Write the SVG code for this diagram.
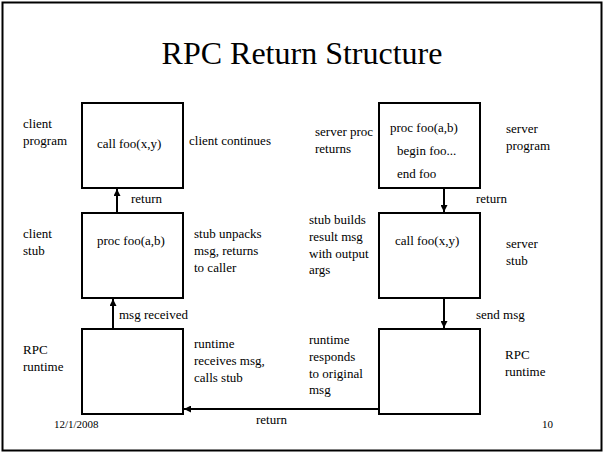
<svg xmlns="http://www.w3.org/2000/svg" width="605" height="454" viewBox="0 0 605 454" font-family="Liberation Serif, Times New Roman, serif">
<style>
text{font-size:13px;fill:#000}
.t{font-size:32px}
.s{font-size:11px}
.box{fill:#fff;stroke:#000;stroke-width:2}
.ln{fill:none;stroke:#000;stroke-width:2}
</style>
<defs>
<marker id="ah" viewBox="0 0 10 10" refX="10" refY="5" markerWidth="3.5" markerHeight="3.5" orient="auto" markerUnits="strokeWidth">
<path d="M0,0 L10,5 L0,10 z" fill="#000"/>
</marker>
</defs>
<rect x="2.5" y="2.5" width="599" height="448" fill="#fff" stroke="#000" stroke-width="2"/>
<text class="t" x="302" y="64" text-anchor="middle">RPC Return Structure</text>

<g id="connectors">
<line class="ln" x1="117" y1="213" x2="117" y2="189" marker-end="url(#ah)"/>
<line class="ln" x1="113" y1="329" x2="113" y2="299" marker-end="url(#ah)"/>
<line class="ln" x1="444" y1="188" x2="444" y2="212" marker-end="url(#ah)"/>
<line class="ln" x1="444" y1="298" x2="444" y2="328" marker-end="url(#ah)"/>
<polyline class="ln" points="379,409 300,409 184,409" marker-end="url(#ah)"/>
<text x="131" y="203">return</text>
<text x="119" y="319">msg received</text>
<text x="476" y="203">return</text>
<text x="476" y="319">send msg</text>
<text x="256" y="424">return</text>
</g>

<g id="client-program">
<rect class="box" x="82" y="103" width="101" height="85"/>
<text x="97" y="148">call foo(x,y)</text>
<text x="23" y="128">client</text>
<text x="23" y="145">program</text>
<text x="189" y="145">client continues</text>
</g>

<g id="client-stub">
<rect class="box" x="82" y="213" width="101" height="85"/>
<text x="97" y="245">proc foo(a,b)</text>
<text x="23" y="238">client</text>
<text x="23" y="255">stub</text>
<text x="194" y="238">stub unpacks</text>
<text x="194" y="255">msg, returns</text>
<text x="194" y="272">to caller</text>
</g>

<g id="client-runtime">
<rect class="box" x="82" y="329" width="101" height="85"/>
<text x="23" y="354">RPC</text>
<text x="23" y="371">runtime</text>
<text x="194" y="348">runtime</text>
<text x="194" y="365">receives msg,</text>
<text x="194" y="382">calls stub</text>
</g>

<g id="server-program">
<rect class="box" x="379" y="103" width="101" height="85"/>
<text x="390" y="132">proc foo(a,b)</text>
<text x="397" y="155">begin foo...</text>
<text x="397" y="178">end foo</text>
<text x="315" y="136">server proc</text>
<text x="315" y="153">returns</text>
<text x="506" y="133">server</text>
<text x="506" y="150">program</text>
</g>

<g id="server-stub">
<rect class="box" x="379" y="213" width="101" height="85"/>
<text x="395" y="245">call foo(x,y)</text>
<text x="309" y="224">stub builds</text>
<text x="309" y="241">result msg</text>
<text x="309" y="258">with output</text>
<text x="309" y="274">args</text>
<text x="506" y="248">server</text>
<text x="506" y="265">stub</text>
</g>

<g id="server-runtime">
<rect class="box" x="379" y="329" width="101" height="85"/>
<text x="309" y="344">runtime</text>
<text x="309" y="361">responds</text>
<text x="309" y="378">to original</text>
<text x="309" y="394">msg</text>
<text x="505" y="359">RPC</text>
<text x="505" y="376">runtime</text>
</g>

<text class="s" x="54" y="428">12/1/2008</text>
<text class="s" x="542" y="428">10</text>
</svg>
